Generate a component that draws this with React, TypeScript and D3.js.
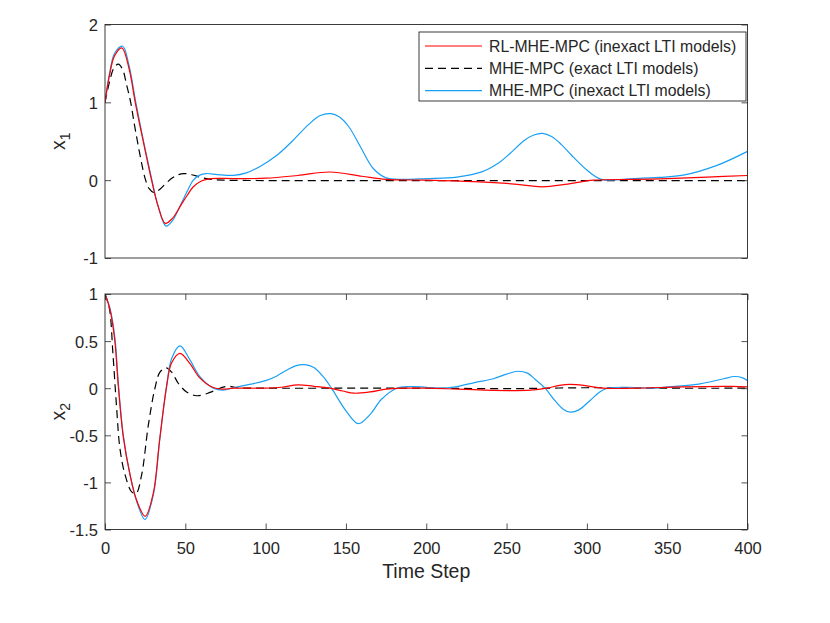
import React, { useEffect, useRef } from 'react';
import * as d3 from 'd3';

type Pt = [number, number];

// x1 traces [time step, value]
const x1RL: Pt[] = [
  [0, 1.0], [3, 1.37], [6, 1.6], [10.5, 1.7], [15, 1.43], [19, 0.98], [24, 0.48], [29, 0.0],
  [33, -0.33], [37.5, -0.555], [42, -0.49], [47, -0.33], [51, -0.2], [55, -0.085], [60, -0.01],
  [66, 0.02], [80, 0.02], [100, 0.025], [120, 0.06], [140, 0.105], [160, 0.05], [175, 0.01],
  [200, 0.0], [230, -0.02], [255, -0.05], [272, -0.085], [288, -0.05], [304, 0.0], [330, 0.01],
  [350, 0.02], [375, 0.04], [400, 0.06],
];

const x1Exact: Pt[] = [
  [0, 1.0], [3, 1.28], [5.5, 1.44], [8.3, 1.49], [11, 1.42], [13.5, 1.22], [16, 1.0], [18, 0.75],
  [20, 0.52], [22.5, 0.25], [25, 0.02], [27.5, -0.11], [30.5, -0.16], [34, -0.12], [38, -0.04],
  [42, 0.03], [45, 0.065], [49, 0.085], [54, 0.07], [60, 0.035], [66, 0.01], [75, 0.0],
  [100, -0.005], [150, -0.005], [200, -0.005], [250, -0.005], [300, -0.005], [350, -0.005], [400, -0.005],
];

const x1Inexact: Pt[] = [
  [0, 1.0], [3, 1.39], [6, 1.63], [11, 1.72], [15, 1.47], [19, 1.02], [24, 0.5], [29, 0.02],
  [33, -0.33], [38, -0.59], [42, -0.52], [47, -0.32], [51, -0.15], [55, 0.0], [59, 0.065],
  [63, 0.085], [70, 0.072], [80, 0.062], [88, 0.094], [96, 0.17], [107, 0.32], [117, 0.51],
  [127, 0.72], [134, 0.83], [140.5, 0.855], [146, 0.81], [152, 0.68], [159, 0.43], [167, 0.15],
  [175, 0.03], [185, 0.01], [200, 0.02], [219, 0.04], [235, 0.11], [245, 0.22], [252, 0.34],
  [261, 0.51], [267, 0.58], [272.5, 0.6], [278, 0.56], [284, 0.46], [290, 0.33], [300, 0.13],
  [309, 0.01], [329, 0.02], [345, 0.035], [360, 0.064], [381, 0.19], [400, 0.37],
];

// x2 traces
const x2RL: Pt[] = [
  [0, 1.0], [3, 0.84], [6, 0.52], [8.3, 0.02], [11.4, -0.52], [15.6, -0.92], [19.7, -1.19],
  [25, -1.36], [30, -1.12], [34, -0.55], [38.2, 0.0], [41.5, 0.27], [46.7, 0.37], [52.9, 0.26],
  [59, 0.11], [67, 0.01], [74, -0.01], [80, 0.0], [100, 0.0], [110, 0.01], [120, 0.036],
  [130, 0.02], [140, 0.0], [148, -0.03], [155, -0.053], [165, -0.04], [175, -0.01], [185, 0.0],
  [200, 0.0], [220, -0.01], [250, -0.025], [265, -0.02], [275, 0.0], [283, 0.03], [289.5, 0.04],
  [298, 0.03], [310, 0.0], [330, 0.0], [360, 0.015], [390, 0.02], [400, 0.015],
];

const x2Exact: Pt[] = [
  [0, 1.0], [2.7, 0.85], [5, 0.35], [7.2, -0.2], [9.3, -0.64], [12.5, -0.92], [16.6, -1.1],
  [19.3, -1.12], [22.8, -0.92], [27, -0.39], [31.1, 0.0], [34.2, 0.17], [38, 0.216], [41.5, 0.17],
  [45.7, 0.05], [50.8, -0.04], [57.1, -0.08], [65.4, -0.045], [71.6, 0.0], [76.8, 0.02],
  [82, 0.005], [100, 0.0], [150, 0.0], [200, 0.0], [250, -0.005], [300, 0.005], [350, 0.0], [400, 0.0],
];

const x2Inexact: Pt[] = [
  [0, 1.0], [3.1, 0.85], [6.2, 0.53], [8.3, 0.05], [11.4, -0.5], [15.6, -0.92], [19.7, -1.2],
  [24.9, -1.395], [30.1, -1.13], [34.2, -0.53], [38.4, 0.03], [41.5, 0.315], [46.7, 0.45],
  [52.9, 0.3], [59.2, 0.12], [67.5, 0.0], [73.7, -0.02], [80, 0.005], [90, 0.04], [100, 0.08],
  [107, 0.13], [113, 0.19], [119, 0.24], [124.5, 0.25], [130, 0.22], [136, 0.12], [141, 0.0],
  [150, -0.24], [157.7, -0.377], [165, -0.28], [172, -0.12], [181.6, 0.0], [190, 0.018],
  [200, 0.01], [210, 0.0], [220, 0.02], [230, 0.06], [241.8, 0.1], [250, 0.15], [257, 0.18],
  [263, 0.16], [268, 0.09], [274, 0.0], [280, -0.13], [285, -0.22], [289.6, -0.254], [295, -0.23],
  [302, -0.13], [308, -0.04], [313, 0.0], [325, 0.01], [340, 0.0], [355, 0.02], [370.5, 0.046],
  [385, 0.1], [392, 0.124], [397, 0.11], [400, 0.08],
];

const xTicks = [0, 50, 100, 150, 200, 250, 300, 350, 400];
const x1Ticks = [-1, 0, 1, 2];
const x2Ticks = [-1.5, -1, -0.5, 0, 0.5, 1];
const legendLabels = [
  'RL-MHE-MPC (inexact LTI models)',
  'MHE-MPC (exact LTI models)',
  'MHE-MPC (inexact LTI models)',
];

const FONT = '"Liberation Sans", Arial, Helvetica, sans-serif';
const INK = '#262626';
const RED = '#ff0000';
const BLUE = '#19a0f5';
const BLACK = '#000000';

export default function App() {
  const svgRef = useRef<SVGSVGElement>(null);

  useEffect(() => {
    if (!svgRef.current) return;
    const svg = d3.select(svgRef.current);
    svg.selectAll('*').remove();

    const left = 105;
    const right = 747.5;
    const xScale = d3.scaleLinear().domain([0, 400]).range([left, right]);

    const drawPanel = (
      id: string,
      top: number,
      bottom: number,
      domain: [number, number],
      yTicks: number[],
      showX: boolean,
      sub: string,
      series: { data: Pt[]; color: string; dash?: string }[],
    ) => {
      const yScale = d3.scaleLinear().domain(domain).range([bottom, top]);
      const g = svg.append('g');

      g.append('rect')
        .attr('x', left).attr('y', top)
        .attr('width', right - left).attr('height', bottom - top)
        .attr('fill', '#fff');

      g.append('clipPath').attr('id', id)
        .append('rect')
        .attr('x', left).attr('y', top)
        .attr('width', right - left).attr('height', bottom - top);

      const line = d3.line<Pt>()
        .x(d => xScale(d[0]))
        .y(d => yScale(d[1]))
        .curve(d3.curveCatmullRom.alpha(0.5));

      const lines = g.append('g').attr('clip-path', `url(#${id})`);
      series.forEach(s => {
        lines.append('path')
          .datum(s.data)
          .attr('fill', 'none')
          .attr('stroke', s.color)
          .attr('stroke-width', 1.2)
          .attr('stroke-dasharray', s.dash ?? null)
          .attr('d', line);
      });

      // y axes (ticks inward)
      const yl = g.append('g')
        .attr('transform', `translate(${left},0)`)
        .call(d3.axisLeft(yScale).tickValues(yTicks).tickSizeInner(-6).tickSizeOuter(0)
          .tickPadding(7).tickFormat(d => String(d)));
      const yr = g.append('g')
        .attr('transform', `translate(${right},0)`)
        .call(d3.axisRight(yScale).tickValues(yTicks).tickSizeInner(-6).tickSizeOuter(0)
          .tickFormat(() => ''));
      [yl, yr].forEach(a => {
        a.select('.domain').remove();
        a.selectAll('line').attr('stroke', INK).attr('stroke-width', 0.8);
      });
      yl.selectAll('text').attr('fill', INK).attr('font-size', 16.5)
        .attr('font-family', FONT).attr('dy', '0.36em');

      if (showX) {
        const xb = g.append('g')
          .attr('transform', `translate(0,${bottom})`)
          .call(d3.axisBottom(xScale).tickValues(xTicks).tickSizeInner(-6).tickSizeOuter(0)
            .tickPadding(13).tickFormat(d => String(d)));
        const xt = g.append('g')
          .attr('transform', `translate(0,${top})`)
          .call(d3.axisTop(xScale).tickValues(xTicks).tickSizeInner(-6).tickSizeOuter(0)
            .tickFormat(() => ''));
        [xb, xt].forEach(a => {
          a.select('.domain').remove();
          a.selectAll('line').attr('stroke', INK).attr('stroke-width', 0.8);
        });
        xb.selectAll('text').attr('fill', INK).attr('font-size', 16.5)
          .attr('font-family', FONT);
      }

      g.append('rect')
        .attr('x', left).attr('y', top)
        .attr('width', right - left).attr('height', bottom - top)
        .attr('fill', 'none')
        .attr('stroke', INK)
        .attr('stroke-width', 0.9);

      // y label x_sub
      const lbl = g.append('text')
        .attr('transform', `translate(65,${(top + bottom) / 2}) rotate(-90)`)
        .attr('text-anchor', 'middle')
        .attr('fill', INK)
        .attr('font-family', FONT)
        .attr('font-size', 19.5);
      lbl.append('tspan').text('x');
      lbl.append('tspan').attr('font-size', 14).attr('dy', 5).text(sub);

      return g;
    };

    const topPanel = drawPanel('clip-x1', 24.5, 258, [-1, 2], x1Ticks, false, '1', [
      { data: x1Exact, color: BLACK, dash: '8,5' },
      { data: x1Inexact, color: BLUE },
      { data: x1RL, color: RED },
    ]);

    drawPanel('clip-x2', 294, 529.5, [-1.5, 1], x2Ticks, true, '2', [
      { data: x2Exact, color: BLACK, dash: '8,5' },
      { data: x2Inexact, color: BLUE },
      { data: x2RL, color: RED },
    ]);

    // x axis title
    svg.append('text')
      .attr('x', (left + right) / 2)
      .attr('y', 578)
      .attr('text-anchor', 'middle')
      .attr('fill', INK)
      .attr('font-family', FONT)
      .attr('font-size', 19.5)
      .text('Time Step');

    // Legend
    const legendItems = [
      { label: legendLabels[0], color: RED, dash: null as string | null },
      { label: legendLabels[1], color: BLACK, dash: '8,5' },
      { label: legendLabels[2], color: BLUE, dash: null },
    ];
    const legend = topPanel.append('g');
    legend.append('rect')
      .attr('x', 419).attr('y', 32)
      .attr('width', 327).attr('height', 69)
      .attr('fill', '#fff')
      .attr('stroke', INK)
      .attr('stroke-width', 0.9);
    legendItems.forEach((item, i) => {
      const cy = 46 + i * 22.35;
      legend.append('line')
        .attr('x1', 425).attr('x2', 482)
        .attr('y1', cy).attr('y2', cy)
        .attr('stroke', item.color)
        .attr('stroke-width', 1.2)
        .attr('stroke-dasharray', item.dash);
      legend.append('text')
        .attr('x', 489).attr('y', cy)
        .attr('dy', '0.36em')
        .attr('fill', INK)
        .attr('font-family', FONT)
        .attr('font-size', 15.8)
        .text(item.label);
    });
  }, []);

  return (
    <svg
      ref={svgRef}
      width={830}
      height={623}
      style={{ position: 'absolute', left: 0, top: 0, background: '#fff' }}
    />
  );
}
